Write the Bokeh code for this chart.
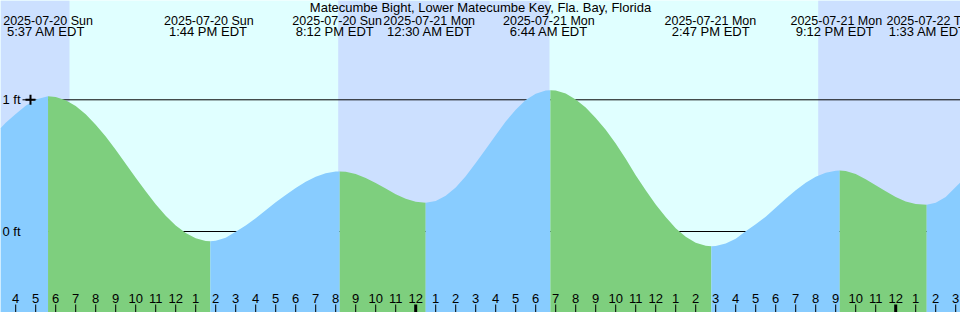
from bokeh.plotting import figure
from bokeh.models import Range1d
from bokeh.core.properties import value
from bokeh.embed import file_html
from bokeh.resources import INLINE

# ---------------- data ----------------
title = "Matecumbe Bight, Lower Matecumbe Key, Fla. Bay, Florida"

# tide extremes (hours since 2025-07-20 00:00 EDT)
extreme_dates = ["2025-07-20 Sun", "2025-07-20 Sun", "2025-07-20 Sun", "2025-07-21 Mon",
                 "2025-07-21 Mon", "2025-07-21 Mon", "2025-07-21 Mon", "2025-07-22 Tue"]
extreme_times = ["5:37 AM EDT", "1:44 PM EDT", "8:12 PM EDT", "12:30 AM EDT",
                 "6:44 AM EDT", "2:47 PM EDT", "9:12 PM EDT", "1:33 AM EDT"]
extreme_hours = [5.617, 13.733, 20.2, 24.5, 30.733, 38.783, 45.2, 49.55]

# tide curve (hours since 2025-07-20 00:00, feet)
curve_hours = [3.24, 3.5, 4.0, 4.5, 5.0, 5.617,
               6.0, 6.5, 7.0, 7.5, 8.0, 8.5, 9.0, 9.5, 10.0, 10.5, 11.0, 11.5, 12.0,
               12.5, 13.0, 13.5, 13.733,
               14.0, 14.5, 15.0, 15.5, 16.0, 16.5, 17.0, 17.5, 18.0, 18.5, 19.0, 19.5,
               20.0, 20.2,
               20.5, 21.0, 21.5, 22.0, 22.5, 23.0, 23.5, 24.0, 24.5,
               25.0, 25.5, 26.0, 26.5, 27.0, 27.5, 28.0, 28.5, 29.0, 29.5, 30.0, 30.5,
               30.733,
               31.0, 31.5, 32.0, 32.5, 33.0, 33.5, 34.0, 34.5, 35.0, 35.5, 36.0, 36.5,
               37.0, 37.5, 38.0, 38.5, 38.783,
               39.0, 39.5, 40.0, 40.5, 41.0, 41.5, 42.0, 42.5, 43.0, 43.5, 44.0, 44.5,
               45.0, 45.2,
               45.5, 46.0, 46.5, 47.0, 47.5, 48.0, 48.5, 49.0, 49.55,
               50.0, 50.5, 51.0, 51.24]
curve_ft = [0.784, 0.825, 0.893, 0.955, 1.003, 1.027,
            1.021, 0.997, 0.952, 0.890, 0.810, 0.722, 0.620, 0.515, 0.408, 0.305, 0.206,
            0.120, 0.045, -0.012, -0.052, -0.072, -0.074,
            -0.070, -0.048, -0.002, 0.045, 0.100, 0.162, 0.222, 0.277, 0.330, 0.378,
            0.415, 0.442, 0.455, 0.456,
            0.453, 0.436, 0.406, 0.369, 0.326, 0.283, 0.248, 0.226, 0.218,
            0.232, 0.271, 0.334, 0.420, 0.520, 0.625, 0.730, 0.835, 0.925, 0.998,
            1.046, 1.070, 1.073,
            1.070, 1.047, 1.003, 0.942, 0.862, 0.772, 0.668, 0.553, 0.428, 0.313,
            0.205, 0.110, 0.024, -0.040, -0.085, -0.108, -0.112,
            -0.110, -0.092, -0.055, 0.002, 0.055, 0.112, 0.180, 0.248, 0.313, 0.370,
            0.415, 0.446, 0.462, 0.463,
            0.460, 0.437, 0.397, 0.352, 0.305, 0.262, 0.228, 0.208, 0.203,
            0.218, 0.262, 0.338, 0.374]

# sunrise / sunset (hours since 2025-07-20 00:00)
sunrise_hours = [6.69, 30.69]
sunset_hours = [20.125, 44.125]

depth_ft = [0, 1]
depth_labels = ["0 ft", "1 ft"]

tick_hours = list(range(4, 52))
tick_labels = [str(h % 12 if h % 12 else 12) for h in tick_hours]

# ---------------- geometry / style ----------------
W, H = 960, 312
X_START = 3.24
PX_PER_H = 20.0
X_END = X_START + W / PX_PER_H
Y0_PX = 231.0      # pixel row of 0 ft
PX_PER_FT = 131.7
TEXT_SHIFT = 4.0   # px, compensates text baseline placement

# label nudges (pixels) so that neighbouring labels do not collide
date_dx_px = [0, -1.5, -2.5, 3.5, -1.5, -1, -3.4, 4]
time_dx_px = [-2, -2.4, -5, 4, -1.5, -0.7, -5, 1]


def px(xp):
    return X_START + xp / PX_PER_H


def py(yp):
    return (Y0_PX - yp) / PX_PER_FT


def ty(yp):
    return py(yp - TEXT_SHIFT)


Y_TOP, Y_BOT = py(0), py(H)

DAY = "#e0ffff"
NIGHT = "#cce0ff"
FLOOD = "#88ccff"
EBB = "#7ecf7e"
FONT = value("Liberation Sans")
FS = value("13px")
FS_DATE = value("12.5px")

p = figure(width=W, height=H, x_range=Range1d(X_START, X_END), y_range=Range1d(Y_BOT, Y_TOP),
           output_backend="svg", toolbar_location=None, min_border=0,
           x_axis_location=None, y_axis_location=None,
           background_fill_color=DAY, border_fill_color=DAY, outline_line_color=None)
p.grid.visible = False

# night shading
night_left = [X_START] + sunset_hours
night_right = sunrise_hours + [X_END]
p.quad(left=night_left, right=night_right, top=Y_TOP, bottom=Y_BOT,
       fill_color=NIGHT, line_color=None)

# depth lines (behind the tide)
p.segment(x0=[px(22)] * len(depth_ft), x1=[X_END] * len(depth_ft), y0=depth_ft, y1=depth_ft,
          line_color="black", line_width=1)

# tide fill, coloured by rising / falling
bounds = [X_START] + extreme_hours + [X_END]
for a, b in zip(bounds[:-1], bounds[1:]):
    xs = [h for h in curve_hours if a - 1e-9 <= h <= b + 1e-9]
    ys = [f for h, f in zip(curve_hours, curve_ft) if a - 1e-9 <= h <= b + 1e-9]
    color = EBB if ys[-1] < ys[0] else FLOOD
    p.varea(x=xs, y1=[Y_BOT] * len(xs), y2=ys, fill_color=color)

# depth labels and mark
p.text(x=[px(2)] * len(depth_ft), y=[d - (4.0 - TEXT_SHIFT) / PX_PER_FT for d in depth_ft],
       text=depth_labels, text_font=FONT, text_font_size=FS, text_baseline="alphabetic",
       text_align="left", text_color="black")
p.scatter(x=[px(30)], y=[1], marker="cross", size=10, line_color="black", line_width=2)

# title and extreme labels
p.text(x=[px(480)], y=[ty(10.7)], text=[title], text_font=FONT, text_font_size=FS,
       text_align="center", text_baseline="alphabetic", text_color="black")
p.text(x=[h + d / PX_PER_H for h, d in zip(extreme_hours, date_dx_px)],
       y=[ty(24)] * len(extreme_hours), text=extreme_dates, text_font=FONT,
       text_font_size=FS_DATE, text_align="center", text_baseline="alphabetic",
       text_color="black")
p.text(x=[h + d / PX_PER_H for h, d in zip(extreme_hours, time_dx_px)],
       y=[ty(35)] * len(extreme_hours), text=extreme_times, text_font=FONT,
       text_font_size=FS, text_align="center", text_baseline="alphabetic", text_color="black")

# hour ticks
normal = [h for h in tick_hours if h % 24]
midnight = [h for h in tick_hours if h % 24 == 0]
p.segment(x0=normal, x1=normal, y0=[py(304)] * len(normal), y1=[py(312)] * len(normal),
          line_color="black", line_width=1)
p.segment(x0=midnight, x1=midnight, y0=[py(304)] * len(midnight), y1=[py(312)] * len(midnight),
          line_color="black", line_width=3)
p.text(x=tick_hours, y=[ty(301.7)] * len(tick_hours), text=tick_labels, text_font=FONT,
       text_font_size=FS, text_align="center", text_baseline="alphabetic", text_color="black")

open("out.html", "w").write(file_html(p, INLINE))
